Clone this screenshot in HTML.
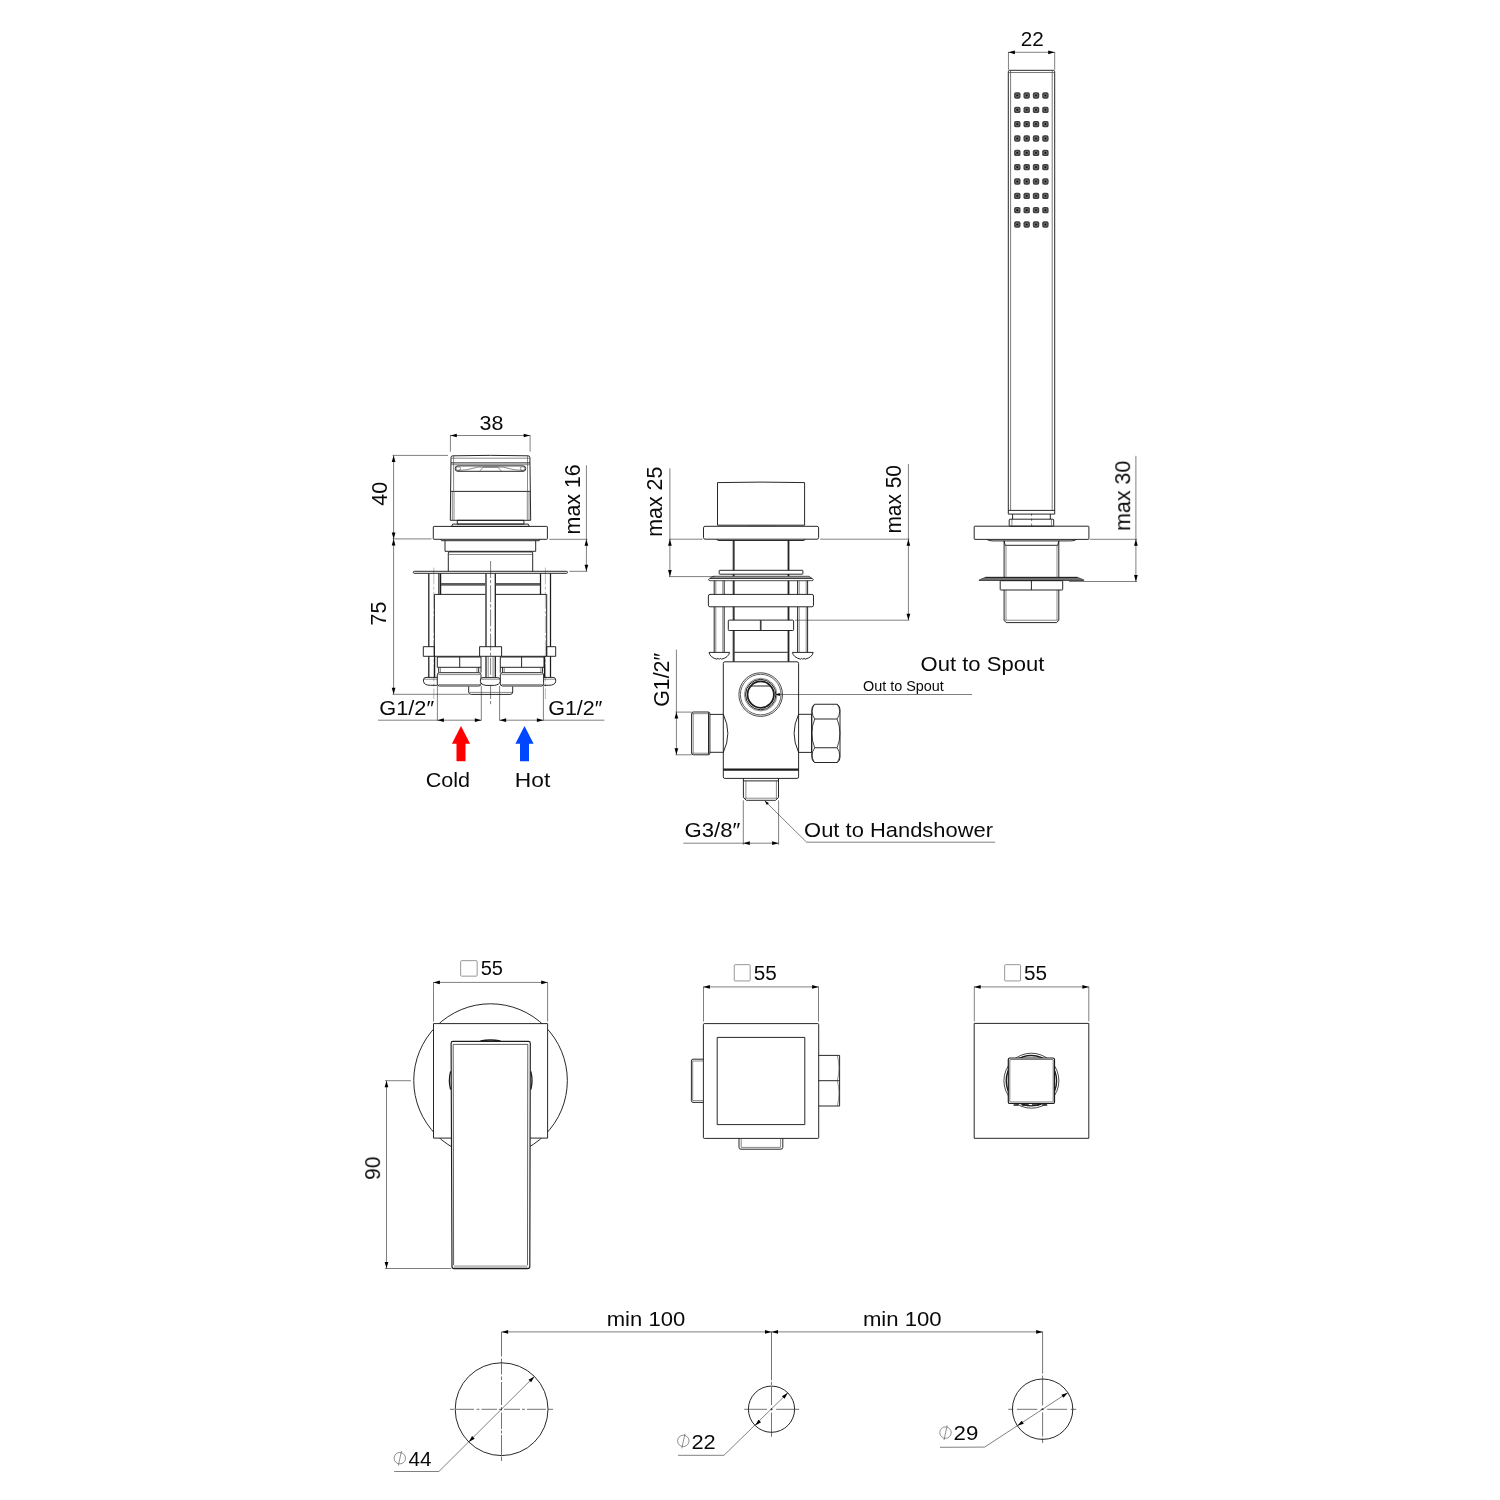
<!DOCTYPE html>
<html lang="en">
<head>
<meta charset="utf-8">
<title>Technical drawing</title>
<style>
html,body{margin:0;padding:0;background:#fff;}
body{width:1500px;height:1500px;overflow:hidden;}
svg{display:block;}
text{font-family:"Liberation Sans",sans-serif;fill:#050505;}
</style>
</head>
<body>
<svg width="1500" height="1500" viewBox="0 0 1500 1500">
<rect width="1500" height="1500" fill="#fff"/>
<g fill="none" stroke="#000" stroke-width="0.5">
<path d="M450.3 435.5L530.1 435.5"/>
<path d="M450.4 435.2L450.4 451.7"/>
<path d="M530.1 435.2L530.1 451.7"/>
<path d="M393.6 455.4L393.6 694.3"/>
<path d="M392.6 455.4L448 455.4"/>
<path d="M392.6 538.9L431.5 538.9"/>
<path d="M392.6 694.3L468.7 694.3"/>
<path d="M586.4 465.3L586.4 571.3"/>
<path d="M549.3 539.3L587.4 539.3"/>
<path d="M569.3 571.3L587.4 571.3"/>
<path d="M437.4 686L437.4 720.6"/>
<path d="M481.3 686L481.3 720.6"/>
<path d="M499.6 686L499.6 720.6"/>
<path d="M543.4 686L543.4 720.6"/>
<path d="M378 720.2L481.3 720.2"/>
<path d="M499.6 720.2L604.4 720.2"/>
<path d="M669.9 468.3L669.9 576.6"/>
<path d="M669 539.2L702.6 539.2"/>
<path d="M669 576.6L714.7 576.6"/>
<path d="M908.4 464L908.4 620.2"/>
<path d="M820.2 539.2L909.3 539.2"/>
<path d="M795 620.2L909.3 620.2"/>
<path d="M676.4 649.6L676.4 754.8"/>
<path d="M675.5 712.1L691.6 712.1"/>
<path d="M675.5 754.8L691.6 754.8"/>
<path d="M743.3 800.3L743.3 844.8"/>
<path d="M778.6 800.3L778.6 844.8"/>
<path d="M683.3 843.2L778.6 843.2"/>
<path d="M764.7 800.8L806.6 842.2L995.2 842.2"/>
<path d="M775.4 694.5L972 694.5"/>
<path d="M1031.6 513.5L1031.6 528" stroke-dasharray="2.6 2.4"/>
<path d="M1008.3 52.3L1054.7 52.3"/>
<path d="M1008.45 52L1008.45 69.8"/>
<path d="M1054.7 52L1054.7 69.8"/>
<path d="M1135.9 455.8L1135.9 581.5"/>
<path d="M1089.9 539.3L1137 539.3"/>
<path d="M1069 581.5L1137 581.5"/>
<path d="M433.5 982.4L547.6 982.4"/>
<path d="M433.5 982.1L433.5 1021.6"/>
<path d="M547.6 982.1L547.6 1021.6"/>
<path d="M386.5 1080.7L386.5 1268.5"/>
<path d="M385 1080.7L410.9 1080.7"/>
<path d="M385 1268.5L451.2 1268.5"/>
<path d="M703.4 986.9L818.6 986.9"/>
<path d="M703.5 986.6L703.5 1021.6"/>
<path d="M818.5 986.6L818.5 1021.6"/>
<path d="M974.2 986.9L1088.9 986.9"/>
<path d="M974.3 986.6L974.3 1021.4"/>
<path d="M1088.8 986.6L1088.8 1021.4"/>
<path d="M450 1409.3L454 1409.3M456 1409.3L474 1409.3M476.5 1409.3L479.5 1409.3M481.5 1409.3L497 1409.3M498.8 1409.3L502 1409.3M504 1409.3L520 1409.3M522 1409.3L525 1409.3M527 1409.3L546 1409.3M548 1409.3L553 1409.3" stroke-width="0.55"/>
<path d="M501.5 1332L501.5 1356.5M501.5 1358.5L501.5 1374.5M501.5 1376.5L501.5 1380M501.5 1382L501.5 1405M501.5 1407L501.5 1410.5M501.5 1412.5L501.5 1429M501.5 1430.5L501.5 1433.5M501.5 1435L501.5 1455M501.5 1456.5L501.5 1461" stroke-width="0.55"/>
<path d="M744.2 1409.3L767.1 1409.3M770.2 1409.3L772.9 1409.3M776.2 1409.3L799.2 1409.3" stroke-width="0.55"/>
<path d="M771.5 1331.8L771.5 1380.4M771.5 1381.8L771.5 1385M771.5 1386.7L771.5 1405M771.5 1408.1L771.5 1410.4M771.5 1412.5L771.5 1436.7" stroke-width="0.55"/>
<path d="M1008.2 1409.3L1013.4 1409.3M1016.9 1409.3L1037.3 1409.3M1040.7 1409.3L1043.8 1409.3M1047.2 1409.3L1067.2 1409.3M1070.6 1409.3L1076.3 1409.3" stroke-width="0.55"/>
<path d="M1042.6 1331.7L1042.6 1373.7M1042.6 1375.5L1042.6 1405.4M1042.6 1408L1042.6 1410.2M1042.6 1412.3L1042.6 1436.6M1042.6 1438.3L1042.6 1443" stroke-width="0.55"/>
<path d="M501.6 1331.9L1042.7 1331.9"/>
<path d="M534.41 1376.39L438.9 1471.5L394.2 1471.5"/>
<path d="M787.83 1392.87L724 1455.3L678 1455.3"/>
<path d="M1067.87 1392.66L984.7 1447.09L940 1447.3"/>
</g>
<g fill="none" stroke="#000" stroke-width="0.5" stroke-dasharray="17 2 3.2 2">
<path d="M433.8 567.6L433.8 699M545.4 567.6L545.4 699" stroke="#666" stroke-width="0.45"/>
<path d="M490.6 561L490.6 706"/>
</g>
<g>
<path d="M733.7 540.5L733.7 570.3" stroke="#909090" stroke-width="2.6" fill="none"/>
<path d="M733.7 574.2L733.7 576.2" stroke="#909090" stroke-width="2.6" fill="none"/>
<path d="M733.7 580.8L733.7 594.4" stroke="#909090" stroke-width="2.6" fill="none"/>
<path d="M733.7 606.8L733.7 620.1" stroke="#909090" stroke-width="2.6" fill="none"/>
<path d="M733.7 630.5L733.7 661.6" stroke="#909090" stroke-width="2.6" fill="none"/>
<path d="M788.5 540.5L788.5 570.3" stroke="#909090" stroke-width="2.6" fill="none"/>
<path d="M788.5 574.2L788.5 576.2" stroke="#909090" stroke-width="2.6" fill="none"/>
<path d="M788.5 580.8L788.5 594.4" stroke="#909090" stroke-width="2.6" fill="none"/>
<path d="M788.5 606.8L788.5 620.1" stroke="#909090" stroke-width="2.6" fill="none"/>
<path d="M788.5 630.5L788.5 661.6" stroke="#909090" stroke-width="2.6" fill="none"/>
</g>
<g fill="none" stroke="#1c1c1c" stroke-width="0.95" stroke-linejoin="round">
<path d="M450.3 520.3L451 457.6Q451 455.8 453 455.8Q490.5 454.9 528 455.8Q529.9 455.8 529.9 457.6L530.7 520.3Z"/>
<path d="M451 462.9L529.9 462.9"/>
<path d="M450.6 491.4L530.4 491.4"/>
<rect x="455.2" y="465.9" width="70.5" height="5.4" rx="2.5"/>
<rect x="457.3" y="520.3" width="66.6" height="3.8"/>
<path d="M452.6 524.1L528.3 524.1L529.3 526.4L451.6 526.4Z"/>
<rect x="433.3" y="526.4" width="114.1" height="12.9" rx="0.6"/>
<path d="M440.7 539.3L441.5 540.7L539.2 540.7L540 539.3"/>
<path d="M445 540.7L445 551.3L535.7 551.3L535.7 540.7"/>
<path d="M448.3 571.3L448.3 553L449 551.9L532 551.9L532.7 553L532.7 571.3"/>
<rect x="413.3" y="571.3" width="154.2" height="2" rx="0.9"/>
<path d="M428.8 573.4L428.8 646.7M550.5 573.4L550.5 646.7M486 573.4L486 646.7M495.3 573.4L495.3 646.7" stroke-width="1.25"/>
<path d="M438.9 573.4L438.9 594.4M440.6 573.4L440.6 594.4M540.5 573.4L540.5 594.4" stroke-width="1.25"/>
<path d="M434.4 656.3L434.4 594.4L485.3 594.4M495.3 594.4L546.7 594.4L546.7 656.3"/>
<path d="M434.4 656.3L479.6 656.3"/>
<path d="M501.6 656.3L546.7 656.3"/>
<rect x="423.3" y="646.7" width="11.1" height="9.6"/>
<rect x="546.7" y="646.7" width="9" height="9.6"/>
<rect x="479.6" y="646.7" width="22" height="9.6"/>
<path d="M428.8 656.3L428.8 677.3M434.6 656.3L434.6 677.3M550.5 656.3L550.5 677.3M544.6 656.3L544.6 677.3M486 656.3L486 677.3M495.3 656.3L495.3 677.3" stroke-width="1.25"/>
<path d="M437.3 657L437.3 667.3L481 667.3M481 657L437.3 657"/>
<path d="M459.7 657L459.7 667.3"/>
<path d="M481 657L481 672.7"/>
<path d="M544 657L544 667.3L500.3 667.3M500.3 657L544 657"/>
<path d="M521.6 657L521.6 667.3"/>
<path d="M500.3 657L500.3 672.7"/>
<path d="M438.7 667.3L438.7 672.7M478.7 667.3L478.7 672.7"/>
<path d="M542.6 667.3L542.6 672.7M502.6 667.3L502.6 672.7"/>
<rect x="437.3" y="672.7" width="43.7" height="13.3" rx="2.2"/>
<rect x="500.3" y="672.7" width="43.3" height="13.3" rx="2.2"/>
<path d="M437.3 677.4L426 677.4Q423.5 677.4 423.5 680L423.5 681.3Q423.9 685.3 430.5 685.3L437.3 685.3"/>
<path d="M543.6 677.4L553.2 677.4Q555.7 677.4 555.7 680L555.7 681.3Q555.3 685.3 548.7 685.3L543.6 685.3"/>
<path d="M483 677.6L497.6 677.6Q500.2 677.6 500.2 680L500.2 681.5Q499.8 684.6 494.5 685.4L486 685.4Q480.8 684.6 480.4 681.5L480.4 680Q480.4 677.6 483 677.6Z" fill="#fff"/>
<path d="M468.7 686.5L468.7 692Q468.7 694.4 471.2 694.4L510.2 694.4Q512.7 694.4 512.7 692L512.7 686.5"/>
<path d="M717.5 525.2L717.5 482.6Q761 481.6 804.6 482.6L804.6 525.2Z"/>
<rect x="703.5" y="526.3" width="115.1" height="12.9" rx="1.6"/>
<path d="M716.5 539.2Q717 540.5 719 540.5L803 540.5Q805 540.5 805.3 539.2"/>
<path d="M733.7 540.5L733.7 570.3"/>
<path d="M733.7 574.2L733.7 576.2"/>
<path d="M733.7 580.8L733.7 594.4"/>
<path d="M733.7 606.8L733.7 620.1"/>
<path d="M733.7 630.5L733.7 661.6"/>
<path d="M788.5 540.5L788.5 570.3"/>
<path d="M788.5 574.2L788.5 576.2"/>
<path d="M788.5 580.8L788.5 594.4"/>
<path d="M788.5 606.8L788.5 620.1"/>
<path d="M788.5 630.5L788.5 661.6"/>
<rect x="719.2" y="570.3" width="83.7" height="3.9" rx="0.6"/>
<path d="M708.5 579.4L713 576.3L809 576.3L813.3 579.4Q813.3 580.7 811.8 580.7L710 580.7Q708.5 580.7 708.5 579.4Z" stroke-width="0.8"/>
<path d="M710 578.4L812 578.4"/>
<rect x="708.4" y="594.4" width="105.1" height="12.4" rx="1.6"/>
<path d="M714.2 580.7L714.2 594.4"/>
<path d="M714.2 606.8L714.2 652.4"/>
<path d="M724.2 580.7L724.2 594.4"/>
<path d="M724.2 606.8L724.2 652.4"/>
<path d="M797.6 580.7L797.6 594.4"/>
<path d="M797.6 606.8L797.6 652.4"/>
<path d="M807.6 580.7L807.6 594.4"/>
<path d="M807.6 606.8L807.6 652.4"/>
<rect x="728.3" y="620.1" width="65.3" height="10.4" rx="0.8"/>
<path d="M760.4 620.1L760.4 630.5"/>
<path d="M709 652.4L729.6 652.4Q728.6 657.4 721.5 659.2L720.3 658.2L719.2 659.4L718 658.2L716.9 659.2Q710 657.4 709 652.4Z"/>
<path d="M792.4 652.4L813.2 652.4Q812.2 657.4 805.1 659.2L803.9 658.2L802.8 659.4L801.6 658.2L800.5 659.2Q793.4 657.4 792.4 652.4Z"/>
<path d="M734.4 652.3L787.7 652.3"/>
<rect x="723.3" y="661.8" width="75.3" height="116.6" rx="1.5"/>
<path d="M723.3 769.7L798.6 769.7" stroke-width="2.3"/>
<circle cx="760.7" cy="694.6" r="21.8" stroke-width="0.8"/>
<circle cx="760.7" cy="694.6" r="20.3" stroke-width="0.7"/>
<circle cx="760.7" cy="694.6" r="15.2" stroke-width="1"/>
<circle cx="760.7" cy="694.6" r="13.2" stroke-width="1.8"/>
<path d="M751.2 686L770.2 686"/>
<path d="M723.3 714.4L709.9 714.4M723.3 752.3L709.9 752.3"/>
<path d="M723.3 714.3Q732.4 733.3 723.3 752.4"/>
<rect x="691.6" y="712" width="18.3" height="42.8" rx="1.7"/>
<path d="M708.5 712.3L708.5 754.5"/>
<path d="M798.6 714.3L811.6 714.3M798.6 752.4L811.6 752.4"/>
<path d="M798.6 714.3Q789.6 733.3 798.6 752.4"/>
<path d="M814.5 704.25L837.25 704.25Q840 706 840 709.5L840 757.3Q840 760.7 837.25 762.5L814.5 762.5Q811.8 760.7 811.8 757.3L811.8 709.5Q811.8 706 814.5 704.25Z"/>
<path d="M814.7 719L837.1 719"/>
<path d="M814.7 747.75L837.1 747.75"/>
<path d="M814.5 704.25Q809.6 711.5 814.7 719Q809 733.4 814.7 747.75Q809.6 755 814.5 762.5" stroke-width="0.8"/>
<path d="M837.25 704.25Q842.2 711.5 837.1 719Q842.8 733.4 837.1 747.75Q842.2 755 837.25 762.5" stroke-width="0.8"/>
<path d="M811.6 714.3L811.6 752.4"/>
<path d="M743.4 778.4L743.4 797.6L746.4 800.3L775.5 800.3L778.5 797.6L778.5 778.4"/>
<path d="M743.4 780.9L778.5 780.9"/>
<path d="M1008.3 514.1L1008.3 71.8Q1008.3 70.3 1009.8 70.3L1053.2 70.3Q1054.7 70.3 1054.7 71.8L1054.7 514.1Z"/>
<path d="M1008.3 510.4L1054.7 510.4"/>
<path d="M1012.6 514.1L1012.6 519.2M1050.3 514.1L1050.3 519.2"/>
<rect x="1009.2" y="519.2" width="44.5" height="7" rx="0.8"/>
<rect x="974.2" y="526.2" width="114.7" height="13.2" rx="0.6"/>
<path d="M986.9 539.4Q988.5 540.9 993 540.9L1070.4 540.9Q1075 540.9 1076.4 539.4"/>
<path d="M1004.1 540.9L1004.1 577.4M1058.8 540.9L1058.8 577.4"/>
<path d="M1004.1 589.9L1004.1 620.3L1006.2 622.6L1056.7 622.6L1058.8 620.3L1058.8 589.9"/>
<path d="M1004.1 540.9L1005.2 545.3L1057.7 545.3L1058.8 540.9"/>
<path d="M979.2 579.9L985.4 577.4L1077.5 577.4L1083.8 579.9L1083.8 580.5L979.2 580.5Z" fill="#6e6e6e" stroke-width="0.7"/>
<path d="M985.4 577.4L1077.5 577.4"/>
<rect x="1000.2" y="580.7" width="62.5" height="9.3" rx="0.6"/>
<path d="M1031.4 580.7L1031.4 590"/>
<circle cx="490.55" cy="1080.6" r="76.8"/>
<rect x="433.5" y="1023.6" width="114.1" height="114.5" fill="#fff"/>
<path d="M451.1 1043.2Q451.1 1041.4 453 1041.4L528.4 1041.4Q530.3 1041.4 530.3 1043.2L529.8 1266.6Q529.8 1268.6 527.8 1268.6L454 1268.6Q452 1268.6 452 1266.6Z" fill="#fff" stroke-width="1.15"/>
<path d="M453.6 1265.2L453.2 1044.4L527.8 1044.4L527.5 1265.2" stroke-width="0.7"/>
<path d="M480.5 1041Q490.4 1038.8 500.4 1041" stroke-width="1.5"/>
<path d="M450.6 1071.3Q448.2 1080.5 450.6 1089.5" stroke-width="1.3"/>
<path d="M530.8 1071.3Q533.2 1080.5 530.8 1089.5" stroke-width="1.3"/>
<rect x="703.4" y="1023.6" width="115.3" height="114.8" rx="0.8"/>
<rect x="717.2" y="1037.4" width="87.6" height="87.2"/>
<path d="M703.4 1059.2L693 1059.2Q691.4 1059.2 691.4 1061L691.4 1100.6Q691.4 1102.4 693 1102.4L703.4 1102.4"/>
<path d="M818.7 1055.4L839.6 1055.4L839.6 1106L818.7 1106"/>
<path d="M818.7 1080.7L839.6 1080.7"/>
<path d="M739 1138.4L739 1147.4Q739 1149.2 741 1149.2L780.8 1149.2Q782.8 1149.2 782.8 1147.4L782.8 1138.4"/>
<circle cx="1031.4" cy="1080.7" r="27.5" stroke-width="0.8"/>
<circle cx="1031.4" cy="1080.7" r="25.2" stroke-width="1.4"/>
<rect x="974.2" y="1023.4" width="114.6" height="114.9"/>
<rect x="1008.3" y="1058" width="46.2" height="45.5" rx="1.6" fill="#fff" stroke-width="1.2"/>
<path d="M1013.6 1104.9L1049.4 1104.9" stroke-width="1.5" stroke-dasharray="5 3.2 7 3.2 7 3.2 5 10"/>
<circle cx="501.6" cy="1409.2" r="46.4"/>
<circle cx="771.5" cy="1409.2" r="23.1"/>
<circle cx="1042.6" cy="1409.2" r="30.2"/>
</g>
<g fill="none" stroke="#4a4a4a" stroke-width="0.65">
<path d="M451 458.2L529.9 458.2"/>
<path d="M451 464.7L529.9 464.7"/>
<path d="M453.6 456L453.6 491.4"/>
<path d="M527.5 456L527.5 491.4"/>
<path d="M452.3 491.4L452.3 520.3"/>
<path d="M454 491.4L454 520.3"/>
<path d="M527.3 491.4L527.3 520.3"/>
<path d="M529 491.4L529 520.3"/>
<path d="M479.5 471.3L483.4 467.1L497.8 467.1L501.7 471.3"/>
<path d="M457 470.6Q466 470.6 478 467.1L503 467.1Q515 470.6 524 470.6"/>
<rect x="456.2" y="466.8" width="4.3" height="3.5" rx="1.6"/>
<rect x="520.4" y="466.8" width="4.3" height="3.5" rx="1.6"/>
<path d="M448.3 554.5L532.7 554.5"/>
<path d="M488.2 656.3L488.2 677.3"/>
<path d="M493.1 656.3L493.1 677.3"/>
<path d="M440.4 667.3L440.4 672.7"/>
<path d="M477 667.3L477 672.7"/>
<path d="M504.3 667.3L504.3 672.7"/>
<path d="M540.9 667.3L540.9 672.7"/>
<path d="M438.5 674.6L480 674.6"/>
<path d="M438.5 684.6L480 684.6"/>
<path d="M501.5 674.6L542.6 674.6"/>
<path d="M501.5 684.6L542.6 684.6"/>
<path d="M424 679.2L437.3 679.2"/>
<path d="M543.6 679.2L555 679.2"/>
<path d="M481.2 679.2L499.6 679.2"/>
<path d="M469.5 692.4L512 692.4"/>
<path d="M747 525.8L775 525.8"/>
<path d="M712 577.3L810 577.3"/>
<path d="M715.8 580.7L715.8 594.4"/>
<path d="M715.8 606.8L715.8 652.4"/>
<path d="M722.8 580.7L722.8 594.4"/>
<path d="M722.8 606.8L722.8 652.4"/>
<path d="M799.2 580.7L799.2 594.4"/>
<path d="M799.2 606.8L799.2 652.4"/>
<path d="M806.2 580.7L806.2 594.4"/>
<path d="M806.2 606.8L806.2 652.4"/>
<path d="M761.4 620.1L761.4 630.5"/>
<circle cx="760.7" cy="694.6" r="16.3"/>
<path d="M693.2 713L693.2 753.6"/>
<path d="M692 713.7L709.7 713.7"/>
<path d="M692 753.2L709.7 753.2"/>
<path d="M745.9 781L745.9 798.8"/>
<path d="M776.4 781L776.4 798.8"/>
<path d="M744 798.2L778 798.2"/>
<path d="M1010.6 510.4L1010.6 70.6M1052.2 70.6L1052.2 510.4M1008.3 72.5L1054.7 72.5" stroke="#444" stroke-width="0.7"/>
<path d="M1011.9 519.2L1011.9 526.2"/>
<path d="M1051.4 519.2L1051.4 526.2"/>
<path d="M1006 545.3L1006 577.4"/>
<path d="M1057 545.3L1057 577.4"/>
<path d="M1006 589.9L1006 620.2"/>
<path d="M1057 589.9L1057 620.2"/>
<path d="M1004.5 620.2L1058.4 620.2"/>
<path d="M703.4 1061L692.7 1061L692.7 1100.6L703.4 1100.6"/>
<path d="M837.4 1055.4Q840.6 1068 837.4 1080.7Q840.6 1093 837.4 1106"/>
<path d="M741.2 1138.4L741.2 1147.4L780.6 1147.4L780.6 1138.4"/>
<rect x="1009.8" y="1059.5" width="43.4" height="42.5" rx="0.5" stroke="#333"/>
</g>
<g>
<rect x="441" y="583" width="44.6" height="2.7" fill="#5c5c5c"/>
<rect x="495.8" y="583" width="44.2" height="2.7" fill="#5c5c5c"/>
<path d="M450.3 435.5L456.8 433.65L456.8 437.35Z" fill="#000"/>
<path d="M530.2 435.5L523.7 437.35L523.7 433.65Z" fill="#000"/>
<path d="M393.6 455.4L395.45 461.9L391.75 461.9Z" fill="#000"/>
<path d="M393.6 538.9L391.75 532.4L395.45 532.4Z" fill="#000"/>
<path d="M393.6 538.9L395.45 545.4L391.75 545.4Z" fill="#000"/>
<path d="M393.6 694.3L391.75 687.8L395.45 687.8Z" fill="#000"/>
<path d="M586.4 539.3L588.25 545.8L584.55 545.8Z" fill="#000"/>
<path d="M586.4 571.3L584.55 564.8L588.25 564.8Z" fill="#000"/>
<path d="M437.4 720.2L443.9 718.35L443.9 722.05Z" fill="#000"/>
<path d="M481.3 720.2L474.8 722.05L474.8 718.35Z" fill="#000"/>
<path d="M499.6 720.2L506.1 718.35L506.1 722.05Z" fill="#000"/>
<path d="M543.4 720.2L536.9 722.05L536.9 718.35Z" fill="#000"/>
<path d="M461 726L470.1 743.8L465.5 743.8L465.5 761.2L456.5 761.2L456.5 743.8L451.9 743.8Z" fill="#ff0000"/>
<path d="M524.5 726L533.6 743.8L529 743.8L529 761.2L520 761.2L520 743.8L515.4 743.8Z" fill="#0046ff"/>
<path d="M669.9 539.2L671.75 545.7L668.05 545.7Z" fill="#000"/>
<path d="M669.9 576.6L668.05 570.1L671.75 570.1Z" fill="#000"/>
<path d="M908.4 539.2L910.25 545.7L906.55 545.7Z" fill="#000"/>
<path d="M908.4 620.2L906.55 613.7L910.25 613.7Z" fill="#000"/>
<path d="M676.4 712.1L678.25 718.6L674.55 718.6Z" fill="#000"/>
<path d="M676.4 754.8L674.55 748.3L678.25 748.3Z" fill="#000"/>
<path d="M743.3 843.2L749.8 841.35L749.8 845.05Z" fill="#000"/>
<path d="M778.6 843.2L772.1 845.05L772.1 841.35Z" fill="#000"/>
<path d="M764.7 800.8L768.88 802.97L766.91 804.96Z" fill="#000"/>
<path d="M775.4 694.5L779.9 693.1L779.9 695.9Z" fill="#000"/>
<rect x="1014.1" y="92.3" width="6.4" height="6.4" rx="1.9" fill="#3c3c3c"/>
<circle cx="1017.3" cy="95.5" r="1.7" fill="none" stroke="#8a8a8a" stroke-width="0.7"/>
<circle cx="1017.3" cy="95.5" r="0.8" fill="#111"/>
<rect x="1023.5" y="92.3" width="6.4" height="6.4" rx="1.9" fill="#3c3c3c"/>
<circle cx="1026.7" cy="95.5" r="1.7" fill="none" stroke="#8a8a8a" stroke-width="0.7"/>
<circle cx="1026.7" cy="95.5" r="0.8" fill="#111"/>
<rect x="1032.85" y="92.3" width="6.4" height="6.4" rx="1.9" fill="#3c3c3c"/>
<circle cx="1036.05" cy="95.5" r="1.7" fill="none" stroke="#8a8a8a" stroke-width="0.7"/>
<circle cx="1036.05" cy="95.5" r="0.8" fill="#111"/>
<rect x="1042.2" y="92.3" width="6.4" height="6.4" rx="1.9" fill="#3c3c3c"/>
<circle cx="1045.4" cy="95.5" r="1.7" fill="none" stroke="#8a8a8a" stroke-width="0.7"/>
<circle cx="1045.4" cy="95.5" r="0.8" fill="#111"/>
<rect x="1014.1" y="106.63" width="6.4" height="6.4" rx="1.9" fill="#3c3c3c"/>
<circle cx="1017.3" cy="109.83" r="1.7" fill="none" stroke="#8a8a8a" stroke-width="0.7"/>
<circle cx="1017.3" cy="109.83" r="0.8" fill="#111"/>
<rect x="1023.5" y="106.63" width="6.4" height="6.4" rx="1.9" fill="#3c3c3c"/>
<circle cx="1026.7" cy="109.83" r="1.7" fill="none" stroke="#8a8a8a" stroke-width="0.7"/>
<circle cx="1026.7" cy="109.83" r="0.8" fill="#111"/>
<rect x="1032.85" y="106.63" width="6.4" height="6.4" rx="1.9" fill="#3c3c3c"/>
<circle cx="1036.05" cy="109.83" r="1.7" fill="none" stroke="#8a8a8a" stroke-width="0.7"/>
<circle cx="1036.05" cy="109.83" r="0.8" fill="#111"/>
<rect x="1042.2" y="106.63" width="6.4" height="6.4" rx="1.9" fill="#3c3c3c"/>
<circle cx="1045.4" cy="109.83" r="1.7" fill="none" stroke="#8a8a8a" stroke-width="0.7"/>
<circle cx="1045.4" cy="109.83" r="0.8" fill="#111"/>
<rect x="1014.1" y="120.97" width="6.4" height="6.4" rx="1.9" fill="#3c3c3c"/>
<circle cx="1017.3" cy="124.17" r="1.7" fill="none" stroke="#8a8a8a" stroke-width="0.7"/>
<circle cx="1017.3" cy="124.17" r="0.8" fill="#111"/>
<rect x="1023.5" y="120.97" width="6.4" height="6.4" rx="1.9" fill="#3c3c3c"/>
<circle cx="1026.7" cy="124.17" r="1.7" fill="none" stroke="#8a8a8a" stroke-width="0.7"/>
<circle cx="1026.7" cy="124.17" r="0.8" fill="#111"/>
<rect x="1032.85" y="120.97" width="6.4" height="6.4" rx="1.9" fill="#3c3c3c"/>
<circle cx="1036.05" cy="124.17" r="1.7" fill="none" stroke="#8a8a8a" stroke-width="0.7"/>
<circle cx="1036.05" cy="124.17" r="0.8" fill="#111"/>
<rect x="1042.2" y="120.97" width="6.4" height="6.4" rx="1.9" fill="#3c3c3c"/>
<circle cx="1045.4" cy="124.17" r="1.7" fill="none" stroke="#8a8a8a" stroke-width="0.7"/>
<circle cx="1045.4" cy="124.17" r="0.8" fill="#111"/>
<rect x="1014.1" y="135.3" width="6.4" height="6.4" rx="1.9" fill="#3c3c3c"/>
<circle cx="1017.3" cy="138.5" r="1.7" fill="none" stroke="#8a8a8a" stroke-width="0.7"/>
<circle cx="1017.3" cy="138.5" r="0.8" fill="#111"/>
<rect x="1023.5" y="135.3" width="6.4" height="6.4" rx="1.9" fill="#3c3c3c"/>
<circle cx="1026.7" cy="138.5" r="1.7" fill="none" stroke="#8a8a8a" stroke-width="0.7"/>
<circle cx="1026.7" cy="138.5" r="0.8" fill="#111"/>
<rect x="1032.85" y="135.3" width="6.4" height="6.4" rx="1.9" fill="#3c3c3c"/>
<circle cx="1036.05" cy="138.5" r="1.7" fill="none" stroke="#8a8a8a" stroke-width="0.7"/>
<circle cx="1036.05" cy="138.5" r="0.8" fill="#111"/>
<rect x="1042.2" y="135.3" width="6.4" height="6.4" rx="1.9" fill="#3c3c3c"/>
<circle cx="1045.4" cy="138.5" r="1.7" fill="none" stroke="#8a8a8a" stroke-width="0.7"/>
<circle cx="1045.4" cy="138.5" r="0.8" fill="#111"/>
<rect x="1014.1" y="149.63" width="6.4" height="6.4" rx="1.9" fill="#3c3c3c"/>
<circle cx="1017.3" cy="152.83" r="1.7" fill="none" stroke="#8a8a8a" stroke-width="0.7"/>
<circle cx="1017.3" cy="152.83" r="0.8" fill="#111"/>
<rect x="1023.5" y="149.63" width="6.4" height="6.4" rx="1.9" fill="#3c3c3c"/>
<circle cx="1026.7" cy="152.83" r="1.7" fill="none" stroke="#8a8a8a" stroke-width="0.7"/>
<circle cx="1026.7" cy="152.83" r="0.8" fill="#111"/>
<rect x="1032.85" y="149.63" width="6.4" height="6.4" rx="1.9" fill="#3c3c3c"/>
<circle cx="1036.05" cy="152.83" r="1.7" fill="none" stroke="#8a8a8a" stroke-width="0.7"/>
<circle cx="1036.05" cy="152.83" r="0.8" fill="#111"/>
<rect x="1042.2" y="149.63" width="6.4" height="6.4" rx="1.9" fill="#3c3c3c"/>
<circle cx="1045.4" cy="152.83" r="1.7" fill="none" stroke="#8a8a8a" stroke-width="0.7"/>
<circle cx="1045.4" cy="152.83" r="0.8" fill="#111"/>
<rect x="1014.1" y="163.97" width="6.4" height="6.4" rx="1.9" fill="#3c3c3c"/>
<circle cx="1017.3" cy="167.17" r="1.7" fill="none" stroke="#8a8a8a" stroke-width="0.7"/>
<circle cx="1017.3" cy="167.17" r="0.8" fill="#111"/>
<rect x="1023.5" y="163.97" width="6.4" height="6.4" rx="1.9" fill="#3c3c3c"/>
<circle cx="1026.7" cy="167.17" r="1.7" fill="none" stroke="#8a8a8a" stroke-width="0.7"/>
<circle cx="1026.7" cy="167.17" r="0.8" fill="#111"/>
<rect x="1032.85" y="163.97" width="6.4" height="6.4" rx="1.9" fill="#3c3c3c"/>
<circle cx="1036.05" cy="167.17" r="1.7" fill="none" stroke="#8a8a8a" stroke-width="0.7"/>
<circle cx="1036.05" cy="167.17" r="0.8" fill="#111"/>
<rect x="1042.2" y="163.97" width="6.4" height="6.4" rx="1.9" fill="#3c3c3c"/>
<circle cx="1045.4" cy="167.17" r="1.7" fill="none" stroke="#8a8a8a" stroke-width="0.7"/>
<circle cx="1045.4" cy="167.17" r="0.8" fill="#111"/>
<rect x="1014.1" y="178.3" width="6.4" height="6.4" rx="1.9" fill="#3c3c3c"/>
<circle cx="1017.3" cy="181.5" r="1.7" fill="none" stroke="#8a8a8a" stroke-width="0.7"/>
<circle cx="1017.3" cy="181.5" r="0.8" fill="#111"/>
<rect x="1023.5" y="178.3" width="6.4" height="6.4" rx="1.9" fill="#3c3c3c"/>
<circle cx="1026.7" cy="181.5" r="1.7" fill="none" stroke="#8a8a8a" stroke-width="0.7"/>
<circle cx="1026.7" cy="181.5" r="0.8" fill="#111"/>
<rect x="1032.85" y="178.3" width="6.4" height="6.4" rx="1.9" fill="#3c3c3c"/>
<circle cx="1036.05" cy="181.5" r="1.7" fill="none" stroke="#8a8a8a" stroke-width="0.7"/>
<circle cx="1036.05" cy="181.5" r="0.8" fill="#111"/>
<rect x="1042.2" y="178.3" width="6.4" height="6.4" rx="1.9" fill="#3c3c3c"/>
<circle cx="1045.4" cy="181.5" r="1.7" fill="none" stroke="#8a8a8a" stroke-width="0.7"/>
<circle cx="1045.4" cy="181.5" r="0.8" fill="#111"/>
<rect x="1014.1" y="192.63" width="6.4" height="6.4" rx="1.9" fill="#3c3c3c"/>
<circle cx="1017.3" cy="195.83" r="1.7" fill="none" stroke="#8a8a8a" stroke-width="0.7"/>
<circle cx="1017.3" cy="195.83" r="0.8" fill="#111"/>
<rect x="1023.5" y="192.63" width="6.4" height="6.4" rx="1.9" fill="#3c3c3c"/>
<circle cx="1026.7" cy="195.83" r="1.7" fill="none" stroke="#8a8a8a" stroke-width="0.7"/>
<circle cx="1026.7" cy="195.83" r="0.8" fill="#111"/>
<rect x="1032.85" y="192.63" width="6.4" height="6.4" rx="1.9" fill="#3c3c3c"/>
<circle cx="1036.05" cy="195.83" r="1.7" fill="none" stroke="#8a8a8a" stroke-width="0.7"/>
<circle cx="1036.05" cy="195.83" r="0.8" fill="#111"/>
<rect x="1042.2" y="192.63" width="6.4" height="6.4" rx="1.9" fill="#3c3c3c"/>
<circle cx="1045.4" cy="195.83" r="1.7" fill="none" stroke="#8a8a8a" stroke-width="0.7"/>
<circle cx="1045.4" cy="195.83" r="0.8" fill="#111"/>
<rect x="1014.1" y="206.96" width="6.4" height="6.4" rx="1.9" fill="#3c3c3c"/>
<circle cx="1017.3" cy="210.16" r="1.7" fill="none" stroke="#8a8a8a" stroke-width="0.7"/>
<circle cx="1017.3" cy="210.16" r="0.8" fill="#111"/>
<rect x="1023.5" y="206.96" width="6.4" height="6.4" rx="1.9" fill="#3c3c3c"/>
<circle cx="1026.7" cy="210.16" r="1.7" fill="none" stroke="#8a8a8a" stroke-width="0.7"/>
<circle cx="1026.7" cy="210.16" r="0.8" fill="#111"/>
<rect x="1032.85" y="206.96" width="6.4" height="6.4" rx="1.9" fill="#3c3c3c"/>
<circle cx="1036.05" cy="210.16" r="1.7" fill="none" stroke="#8a8a8a" stroke-width="0.7"/>
<circle cx="1036.05" cy="210.16" r="0.8" fill="#111"/>
<rect x="1042.2" y="206.96" width="6.4" height="6.4" rx="1.9" fill="#3c3c3c"/>
<circle cx="1045.4" cy="210.16" r="1.7" fill="none" stroke="#8a8a8a" stroke-width="0.7"/>
<circle cx="1045.4" cy="210.16" r="0.8" fill="#111"/>
<rect x="1014.1" y="221.3" width="6.4" height="6.4" rx="1.9" fill="#3c3c3c"/>
<circle cx="1017.3" cy="224.5" r="1.7" fill="none" stroke="#8a8a8a" stroke-width="0.7"/>
<circle cx="1017.3" cy="224.5" r="0.8" fill="#111"/>
<rect x="1023.5" y="221.3" width="6.4" height="6.4" rx="1.9" fill="#3c3c3c"/>
<circle cx="1026.7" cy="224.5" r="1.7" fill="none" stroke="#8a8a8a" stroke-width="0.7"/>
<circle cx="1026.7" cy="224.5" r="0.8" fill="#111"/>
<rect x="1032.85" y="221.3" width="6.4" height="6.4" rx="1.9" fill="#3c3c3c"/>
<circle cx="1036.05" cy="224.5" r="1.7" fill="none" stroke="#8a8a8a" stroke-width="0.7"/>
<circle cx="1036.05" cy="224.5" r="0.8" fill="#111"/>
<rect x="1042.2" y="221.3" width="6.4" height="6.4" rx="1.9" fill="#3c3c3c"/>
<circle cx="1045.4" cy="224.5" r="1.7" fill="none" stroke="#8a8a8a" stroke-width="0.7"/>
<circle cx="1045.4" cy="224.5" r="0.8" fill="#111"/>
<path d="M1008.4 52.3L1014.9 50.45L1014.9 54.15Z" fill="#000"/>
<path d="M1054.7 52.3L1048.2 54.15L1048.2 50.45Z" fill="#000"/>
<path d="M1135.9 539.3L1137.75 545.8L1134.05 545.8Z" fill="#000"/>
<path d="M1135.9 581.5L1134.05 575L1137.75 575Z" fill="#000"/>
<path d="M453.8 1265.3L527.5 1265.3L527.5 1267.9L453.8 1267.9Z" fill="#bdbdbd"/>
<rect x="460.65" y="960.65" width="16.5" height="15.5" rx="0.9" fill="none" stroke="#858585" stroke-width="0.85"/>
<path d="M433.4 982.4L439.9 980.55L439.9 984.25Z" fill="#000"/>
<path d="M547.7 982.4L541.2 984.25L541.2 980.55Z" fill="#000"/>
<path d="M386.5 1080.7L388.35 1087.2L384.65 1087.2Z" fill="#000"/>
<path d="M386.5 1268.5L384.65 1262L388.35 1262Z" fill="#000"/>
<rect x="734.25" y="964.65" width="15.9" height="16.3" rx="0.9" fill="none" stroke="#858585" stroke-width="0.85"/>
<path d="M703.4 986.9L709.9 985.05L709.9 988.75Z" fill="#000"/>
<path d="M818.6 986.9L812.1 988.75L812.1 985.05Z" fill="#000"/>
<rect x="1004.65" y="964.65" width="15.9" height="16.3" rx="0.9" fill="none" stroke="#858585" stroke-width="0.85"/>
<path d="M974.2 986.9L980.7 985.05L980.7 988.75Z" fill="#000"/>
<path d="M1088.9 986.9L1082.4 988.75L1082.4 985.05Z" fill="#000"/>
<path d="M501.6 1331.9L508.1 1330.05L508.1 1333.75Z" fill="#000"/>
<path d="M771.5 1331.9L765 1333.75L765 1330.05Z" fill="#000"/>
<path d="M771.5 1331.9L778 1330.05L778 1333.75Z" fill="#000"/>
<path d="M1042.7 1331.9L1036.2 1333.75L1036.2 1330.05Z" fill="#000"/>
<path d="M534.41 1376.39L531.12 1382.29L528.51 1379.68Z" fill="#000"/>
<path d="M468.79 1442.01L472.08 1436.11L474.69 1438.72Z" fill="#000"/>
<path d="M787.83 1392.87L784.55 1398.77L781.93 1396.15Z" fill="#000"/>
<path d="M755.17 1425.53L758.45 1419.63L761.07 1422.25Z" fill="#000"/>
<path d="M1067.87 1392.66L1063.44 1397.77L1061.42 1394.67Z" fill="#000"/>
<path d="M1017.33 1425.74L1021.76 1420.63L1023.78 1423.73Z" fill="#000"/>
<circle cx="399.8" cy="1458.2" r="5.7" fill="none" stroke="#555" stroke-width="0.65"/>
<path d="M398.3 1465.7L401.5 1451" stroke="#555" stroke-width="0.65"/>
<circle cx="683.3" cy="1440.9" r="5.7" fill="none" stroke="#555" stroke-width="0.65"/>
<path d="M681.8 1448.4L685 1433.7" stroke="#555" stroke-width="0.65"/>
<circle cx="945.5" cy="1432.6" r="5.7" fill="none" stroke="#555" stroke-width="0.65"/>
<path d="M944 1440.1L947.2 1425.4" stroke="#555" stroke-width="0.65"/>
</g>
<g opacity="0.98">
<text x="479.52" y="429.5" font-size="20.7" text-anchor="start" textLength="23.83" lengthAdjust="spacingAndGlyphs">38</text>
<text x="1020.8" y="45.9" font-size="20.7" text-anchor="start">22</text>
<text x="379.25" y="715" font-size="20.7" text-anchor="start" textLength="54.91" lengthAdjust="spacingAndGlyphs">G1/2″</text>
<text x="548.16" y="715" font-size="20.7" text-anchor="start" textLength="54.3" lengthAdjust="spacingAndGlyphs">G1/2″</text>
<text x="425.66" y="787.2" font-size="20.7" text-anchor="start" textLength="44.4" lengthAdjust="spacingAndGlyphs">Cold</text>
<text x="514.77" y="787.2" font-size="20.7" text-anchor="start" textLength="35.45" lengthAdjust="spacingAndGlyphs">Hot</text>
<text x="684.63" y="836.9" font-size="20.7" text-anchor="start" textLength="55.74" lengthAdjust="spacingAndGlyphs">G3/8″</text>
<text x="804.14" y="837.4" font-size="20.7" text-anchor="start" textLength="188.92" lengthAdjust="spacingAndGlyphs">Out to Handshower</text>
<text x="920.64" y="670.9" font-size="20.7" text-anchor="start" textLength="123.63" lengthAdjust="spacingAndGlyphs">Out to Spout</text>
<text x="862.93" y="690.6" font-size="14" text-anchor="start" textLength="80.88" lengthAdjust="spacingAndGlyphs">Out to Spout</text>
<text x="480.63" y="975.3" font-size="20.7" text-anchor="start" textLength="22.31" lengthAdjust="spacingAndGlyphs">55</text>
<text x="753.67" y="980.35" font-size="20.7" text-anchor="start">55</text>
<text x="1023.88" y="980.35" font-size="20.7" text-anchor="start">55</text>
<text x="606.7" y="1325.8" font-size="20.7" text-anchor="start" textLength="78.52" lengthAdjust="spacingAndGlyphs">min 100</text>
<text x="862.9" y="1325.8" font-size="20.7" text-anchor="start" textLength="78.72" lengthAdjust="spacingAndGlyphs">min 100</text>
<text x="408.5" y="1466" font-size="20.7" text-anchor="start">44</text>
<text x="691.44" y="1448.7" font-size="20.7" text-anchor="start" textLength="24.33" lengthAdjust="spacingAndGlyphs">22</text>
<text x="953.62" y="1440.3" font-size="20.7" text-anchor="start" textLength="24.77" lengthAdjust="spacingAndGlyphs">29</text>
<text x="387.3" y="505.65" font-size="21.4" text-anchor="start" transform="rotate(-90 387.3 505.65)">40</text>
<text x="386.2" y="625.42" font-size="21.4" text-anchor="start" transform="rotate(-90 386.2 625.42)">75</text>
<text x="580.2" y="534.38" font-size="21.4" text-anchor="start" transform="rotate(-90 580.2 534.38)">max 16</text>
<text x="662.2" y="536.77" font-size="21.4" text-anchor="start" transform="rotate(-90 662.2 536.77)">max 25</text>
<text x="901.3" y="533.57" font-size="21.4" text-anchor="start" transform="rotate(-90 901.3 533.57)" textLength="68.55" lengthAdjust="spacingAndGlyphs">max 50</text>
<text x="1130" y="530.83" font-size="21.4" text-anchor="start" transform="rotate(-90 1130 530.83)">max 30</text>
<text x="669.1" y="706.85" font-size="21.4" text-anchor="start" transform="rotate(-90 669.1 706.85)">G1/2″</text>
<text x="380" y="1179.88" font-size="21.4" text-anchor="start" transform="rotate(-90 380 1179.88)" textLength="23.26" lengthAdjust="spacingAndGlyphs">90</text>
</g>
</svg>
</body>
</html>
